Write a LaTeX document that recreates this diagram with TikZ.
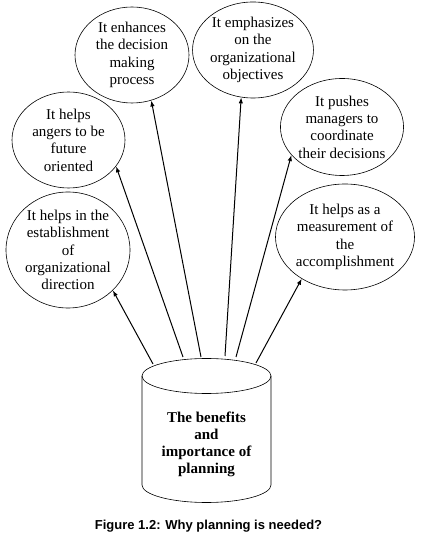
\documentclass[tikz,border=0pt]{standalone}
\usepackage{fontspec}
\setmainfont{Liberation Serif}
\newfontfamily\didafont{Liberation Sans}
\usetikzlibrary{shapes.geometric,arrows.meta}

\tikzset{
  bolla/.style={ellipse, draw, line width=0.6pt, inner sep=0pt, align=center,
    font=\fontsize{15}{17.3}\selectfont},
  freccia/.style={-{Latex[length=6pt,width=4.5pt]}, line width=1pt}
}

\begin{document}
\begin{tikzpicture}[x=1pt,y=1pt]
    % riquadro
    \useasboundingbox (0,0) rectangle (437,533);

    % parametri cilindro
    \def\cx{206.5}
    \def\rx{64.5}
    \def\ry{17.5}
    \def\ytop{157}
    \def\ybot{48}

    % ellissi
    \node[bolla, minimum width=114, minimum height=96] (decisioni) at (132,478) {It enhances\\the decision\\making\\process};
    \node[bolla, minimum width=116, minimum height=96] (obiettivi) at (253,483) {It emphasizes\\on the\\organizational\\objectives};
    \node[bolla, minimum width=113, minimum height=96] (futuro) at (68.5,393) {It helps\\angers to be\\future\\oriented};
    \node[bolla, minimum width=120, minimum height=97] (coordinamento) at (342,406) {It pushes\\managers to\\coordinate\\their decisions};
    \node[bolla, minimum width=124, minimum height=116] (direzione) at (68,283) {It helps in the\\establishment\\of\\organizational\\direction};
    \node[bolla, minimum width=132, minimum height=106] (misura) at (345,296) {It helps as a\\measurement of\\the\\accomplishment};

    % cilindro
    \draw[line width=0.6pt] (\cx-\rx,\ytop) -- (\cx-\rx,\ybot)
        arc[start angle=180, end angle=360, x radius=\rx, y radius=\ry] -- (\cx+\rx,\ytop);
    \draw[line width=0.6pt] (\cx,\ytop) ellipse[x radius=\rx, y radius=\ry];
    \node[align=center, font=\bfseries\fontsize{15}{17}\selectfont] (piano) at (\cx,88.5) {The benefits\\and\\importance of\\planning};

    % punti di partenza
    \coordinate (p1) at (153,169);
    \coordinate (p2) at (183,176);
    \coordinate (p3) at (201,176);
    \coordinate (p4) at (225,177);
    \coordinate (p5) at (236,176);
    \coordinate (p6) at (256,170);

    % frecce
    \draw[freccia] (p1) -- (direzione.318);
    \draw[freccia] (p2) -- (futuro.331);
    \draw[freccia] (p3) -- (decisioni.293);
    \draw[freccia] (p4) -- (obiettivi.256);
    \draw[freccia] (p5) -- (coordinamento.209);
    \draw[freccia] (p6) -- (misura.224);

    % didascalia
    \node[anchor=base, font=\didafont\bfseries\fontsize{13}{15}\selectfont] (didascalia) at (208.5,4) {Figure 1.2: Why planning is needed?};
\end{tikzpicture}
\end{document}
